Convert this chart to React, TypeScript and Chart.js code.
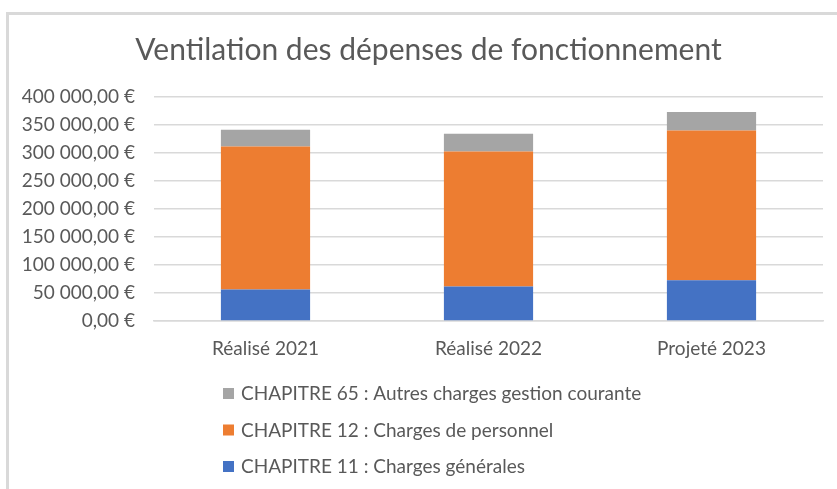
import React, { useEffect, useRef } from "react";
import { Chart, registerables } from "chart.js";

Chart.register(...registerables);

const categories = ["Réalisé 2021", "Réalisé 2022", "Projeté 2023"];
const chapitre11 = [56200, 61600, 72900];
const chapitre12 = [255400, 241000, 267300];
const chapitre65 = [29900, 31700, 32900];
const seriesNames = [
  "CHAPITRE 11 : Charges générales",
  "CHAPITRE 12 : Charges de personnel",
  "CHAPITRE 65 : Autres charges gestion courante",
];
const seriesColors = ["#4472C4", "#ED7D31", "#A5A5A5"];
const chartTitle = "Ventilation des dépenses de fonctionnement";

const FONT = "Lato, 'Open Sans', sans-serif";
const TEXT = "#595959";

function formatEuro(v: number): string {
  const s = Math.round(v).toString();
  const grouped = s.replace(/\B(?=(\d{3})+(?!\d))/g, " ");
  return grouped + ",00 €";
}

const titleLegendPlugin = {
  id: "titleLegend",
  afterDraw(chart: any) {
    const ctx = chart.ctx;
    ctx.save();
    // title
    ctx.font = `30px ${FONT}`;
    ctx.fillStyle = TEXT;
    ctx.textAlign = "center";
    ctx.textBaseline = "alphabetic";
    ctx.fillText(chartTitle, 428.5, 60);
    // legend
    const ds = chart.data.datasets;
    const n = ds.length;
    ctx.font = `19px ${FONT}`;
    ctx.textBaseline = "middle";
    ctx.textAlign = "left";
    const x0 = 223;
    const yStart = 393;
    const gap = 36.5;
    for (let i = n - 1; i >= 0; i--) {
      const row = n - 1 - i;
      const y = yStart + row * gap;
      ctx.fillStyle = ds[i].backgroundColor;
      ctx.fillRect(x0, y - 5, 11, 11);
      ctx.fillStyle = TEXT;
      ctx.fillText(ds[i].label, x0 + 18, y + 1);
    }
    ctx.restore();
  },
};

export default function App() {
  const ref = useRef<HTMLCanvasElement | null>(null);
  useEffect(() => {
    if (!ref.current) return;
    const chart = new Chart(ref.current, {
      type: "bar",
      data: {
        labels: categories,
        datasets: [
          { label: seriesNames[0], data: chapitre11, backgroundColor: seriesColors[0] },
          { label: seriesNames[1], data: chapitre12, backgroundColor: seriesColors[1] },
          { label: seriesNames[2], data: chapitre65, backgroundColor: seriesColors[2] },
        ],
      },
      options: {
        animation: false,
        responsive: false,
        maintainAspectRatio: false,
        datasets: { bar: { categoryPercentage: 1, barPercentage: 0.4 } },
        layout: { padding: { left: 0, right: 14, top: 97, bottom: 128 } },
        plugins: {
          legend: { display: false },
          tooltip: { enabled: false },
          title: { display: false },
        },
        scales: {
          x: {
            stacked: true,
            grid: { display: false, drawTicks: false },
            border: { display: true, color: "#d9d9d9", width: 1.5 },
            ticks: { color: TEXT, font: { family: FONT, size: 19 }, padding: 16 },
            afterFit: (s: any) => {
              s.height = 40;
            },
          },
          y: {
            stacked: true,
            min: 0,
            max: 400000,
            grid: { color: "#d9d9d9", lineWidth: 1.5, drawTicks: false },
            border: { display: false },
            ticks: {
              stepSize: 50000,
              color: TEXT,
              font: { family: FONT, size: 19 },
              padding: 19,
              callback: (v: any) => formatEuro(Number(v)),
            },
            afterFit: (s: any) => {
              s.width = 154;
            },
          },
        },
      },
      plugins: [titleLegendPlugin],
    });
    return () => chart.destroy();
  }, []);
  return (
    <div style={{ position: "absolute", left: 0, top: 0, width: 837, height: 489, background: "#fff", overflow: "hidden" }}>
      <div
        style={{
          position: "absolute",
          left: 6,
          top: 12,
          width: 837,
          height: 489,
          borderLeft: "3px solid #d9d9d9",
          borderTop: "3px solid #d9d9d9",
        }}
      />
      <canvas ref={ref} width={837} height={489} style={{ position: "absolute", left: 0, top: 0 }} />
    </div>
  );
}
